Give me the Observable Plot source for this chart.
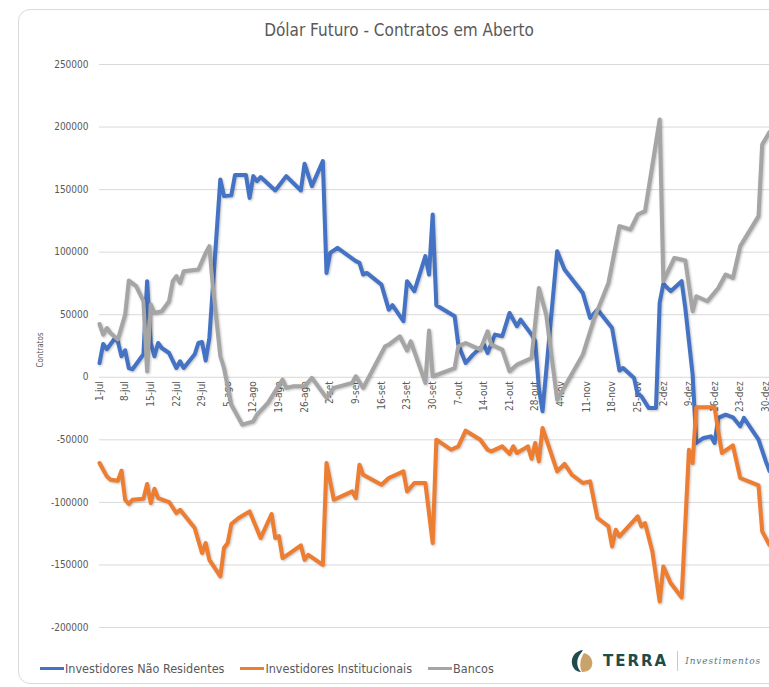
<!DOCTYPE html>
<html>
<head>
<meta charset="utf-8">
<script src="https://cdn.jsdelivr.net/npm/d3@7"></script>
<script src="https://cdn.jsdelivr.net/npm/@observablehq/plot@0.6"></script>
<style>
html,body{margin:0;padding:0;background:#fff;overflow:hidden;}
#wrap{position:relative;width:769px;height:687px;overflow:hidden;font-family:"Liberation Sans Narrow","DejaVu Sans Condensed","Roboto Condensed",Roboto,sans-serif;color:#595959;}
#card{position:absolute;left:18px;top:9px;width:820px;height:675px;border:1px solid #d9d9d9;border-radius:12px;box-sizing:border-box;}
#title{position:absolute;left:0;top:20px;width:798px;text-align:center;font-size:17px;color:#595959;}
#ylab{position:absolute;left:40px;top:350px;font-size:8px;transform:translate(-50%,-50%) rotate(-90deg);white-space:nowrap;color:#595959;}
#chart{position:absolute;left:0;top:0;}
#legend{position:absolute;left:40px;top:661px;font-size:12.5px;color:#595959;display:flex;align-items:center;white-space:nowrap;}
.item{display:flex;align-items:center;margin-right:16px;}
.sw{display:inline-block;width:24px;height:3px;margin-right:1px;}
#logo{position:absolute;left:570px;top:649px;display:flex;align-items:center;}
#terra{font-family:"DejaVu Sans",sans-serif;font-weight:bold;font-size:15px;letter-spacing:2px;color:#1f4b4a;margin-left:9px;}
#sep{width:1px;height:20px;background:#c9c9c9;margin:0 7px 0 9px;}
#inv{font-family:"DejaVu Serif",serif;font-style:italic;font-size:9px;letter-spacing:0.9px;color:#5b7675;}
</style>
</head>
<body>
<div id="wrap">
  <div id="card"></div>
  <div id="title">Dólar Futuro - Contratos em Aberto</div>
  <div id="ylab">Contratos</div>
  <div id="chart"></div>
  <div id="legend">
    <div class="item"><span class="sw" style="background:#4472C4"></span>Investidores Não Residentes</div>
    <div class="item"><span class="sw" style="background:#ED7D31"></span>Investidores Institucionais</div>
    <div class="item"><span class="sw" style="background:#A5A5A5"></span>Bancos</div>
  </div>
  <div id="logo">
    <svg width="24" height="24" viewBox="0 0 24 24">
      <path d="M13 1 C5 2 1 8 2 15 C3 20 7 23 11 23 C7 19 6 12 9 7 C10 5 12 3 13 1 Z" fill="#1f4b4a"/>
      <path d="M14 4 C22 6 24 14 21 19 C19 22 15 23 12 23 C9 18 10 10 14 4 Z" fill="#c9a36a"/>
    </svg>
    <span id="terra">TERRA</span><span id="sep"></span><span id="inv">Investimentos</span>
  </div>
</div>
<script>
// ---- data (2019) ----
const naoResidentesDatas = ["07-01","07-02","07-03","07-05","07-06","07-07","07-08","07-09","07-10","07-13","07-14","07-15","07-16","07-17","07-18","07-20","07-22","07-23","07-24","07-27","07-28","07-29","07-30","07-31","08-03","08-04","08-06","08-07","08-10","08-11","08-12","08-13","08-14","08-18","08-21","08-25","08-26","08-28","08-31","09-01","09-02","09-04","09-09","09-10","09-11","09-12","09-16","09-18","09-19","09-22","09-23","09-25","09-28","09-29","09-30","10-01","10-06","10-07","10-09","10-11","10-14","10-15","10-17","10-19","10-21","10-23","10-24","10-27","10-28","10-29","10-30","11-03","11-05","11-10","11-12","11-14","11-18","11-20","11-21","11-24","11-25","11-26","11-28","11-30","12-01","12-02","12-04","12-07","12-08","12-10","12-11","12-13","12-15","12-16","12-17","12-19","12-21","12-23","12-24","12-28","12-30","12-31"];
const naoResidentesValores = [11400,26600,22400,30400,28800,16800,21600,7400,6400,18400,76800,27400,16800,27400,23400,19400,7400,12800,7400,18400,27400,28200,13400,31400,158100,144800,145400,161600,161600,143400,160800,156800,160000,149300,160800,149300,170700,152800,172800,83400,99400,103400,92800,91400,82100,83400,74100,54100,57600,44800,76800,68800,96800,82100,130100,57600,48800,26100,11400,18100,26100,19400,34100,32800,51400,40800,46100,34100,28800,-8500,-27200,100800,86100,67400,47400,54100,39400,5400,7400,-500,-13800,-15200,-24500,-24500,59400,74700,68800,76800,55400,2100,-52500,-48500,-47200,-52500,-32500,-29900,-32000,-39200,-32500,-49900,-67200,-75000];

const institucionaisDatas = ["07-01","07-03","07-04","07-06","07-07","07-08","07-09","07-10","07-13","07-14","07-15","07-16","07-17","07-20","07-22","07-23","07-27","07-29","07-30","07-31","08-03","08-04","08-05","08-06","08-08","08-11","08-14","08-17","08-18","08-19","08-20","08-22","08-25","08-26","08-27","08-31","09-01","09-03","09-08","09-09","09-10","09-11","09-16","09-18","09-22","09-23","09-25","09-28","09-30","10-01","10-05","10-07","10-09","10-13","10-15","10-16","10-19","10-21","10-22","10-23","10-26","10-27","10-28","10-29","10-30","11-03","11-05","11-07","11-10","11-12","11-14","11-17","11-18","11-19","11-20","11-25","11-26","11-27","11-29","12-01","12-02","12-04","12-07","12-09","12-10","12-11","12-16","12-17","12-18","12-21","12-23","12-28","12-29","12-31"];
const institucionaisValores = [-68500,-79200,-81900,-82700,-74700,-97900,-101300,-97900,-97100,-85300,-100500,-89100,-96500,-99700,-108500,-105900,-120500,-140500,-132500,-145900,-159200,-136500,-132500,-117300,-112500,-107200,-128500,-109300,-128500,-127000,-144500,-140500,-134400,-145900,-141900,-149900,-68500,-97900,-91200,-96500,-69900,-77900,-85900,-80500,-75200,-91200,-84500,-84500,-132500,-49900,-57900,-55200,-42700,-49900,-57900,-59200,-55200,-61300,-55200,-60500,-55200,-65100,-52500,-67200,-40500,-75200,-69300,-77900,-84500,-83200,-112500,-119200,-135200,-121900,-127200,-111200,-119200,-116500,-139200,-179200,-151200,-164500,-176000,-57900,-68500,-24000,-24000,-43200,-60500,-54400,-80500,-86400,-123200,-134000];

const bancosDatas = ["07-01","07-02","07-03","07-04","07-06","07-08","07-09","07-11","07-13","07-14","07-15","07-16","07-18","07-20","07-21","07-22","07-23","07-24","07-28","07-30","07-31","08-01","08-03","08-04","08-06","08-09","08-12","08-13","08-16","08-20","08-21","08-23","08-26","08-28","08-31","09-01","09-03","09-08","09-09","09-11","09-17","09-18","09-21","09-23","09-24","09-28","09-29","09-30","10-06","10-07","10-09","10-13","10-15","10-16","10-19","10-21","10-23","10-27","10-29","10-31","11-03","11-10","11-13","11-17","11-20","11-23","11-25","11-27","12-01","12-02","12-05","12-08","12-10","12-11","12-14","12-17","12-19","12-21","12-23","12-28","12-29","12-31"];
const bancosValores = [42600,34100,39400,35400,30100,50100,77300,72800,60800,4800,58100,51400,52800,60800,76800,80800,75400,84800,86100,99400,104800,71400,16800,7400,-22000,-37900,-35200,-29900,-20500,-1900,-8500,-7200,-7200,-500,-12500,-16500,-8500,-4500,800,-8500,24800,26100,32800,21400,28800,-4500,37300,800,7400,24800,27400,22100,36800,26100,22100,4800,10100,15400,71400,50100,-18000,18100,46100,75400,120800,118100,130100,132800,206100,76800,95400,93300,52800,64800,60800,71400,82100,79400,104800,128800,186100,196000];

const xTickDatas = ["07-01","07-08","07-15","07-22","07-29","08-05","08-12","08-19","08-26","09-02","09-09","09-16","09-23","09-30","10-07","10-14","10-21","10-28","11-04","11-11","11-18","11-25","12-02","12-09","12-16","12-23","12-30"];
const xTickLabels = ["1-jul","8-jul","15-jul","22-jul","29-jul","5-ago","12-ago","19-ago","26-ago","2-set","9-set","16-set","23-set","30-set","7-out","14-out","21-out","28-out","4-nov","11-nov","18-nov","25-nov","2-dez","9-dez","16-dez","23-dez","30-dez"];
const yTicks = [-200000,-150000,-100000,-50000,0,50000,100000,150000,200000,250000];

// ---- build ----
const parse = s => d3.utcParse("%Y-%m-%d")("2019-" + s);
const toRows = (datas, valores) => datas.map((d, i) => ({date: parse(d), value: valores[i]}));
const naoRes = toRows(naoResidentesDatas, naoResidentesValores);
const inst = toRows(institucionaisDatas, institucionaisValores);
const bancos = toRows(bancosDatas, bancosValores);
const ticks = xTickDatas.map((d, i) => ({date: parse(d), label: xTickLabels[i]}));

const FONT = '"Liberation Sans Narrow","DejaVu Sans Condensed","Roboto Condensed",Roboto,sans-serif';

const chart = Plot.plot({
  width: 769,
  height: 687,
  marginLeft: 99,
  marginRight: 0,
  marginTop: 64,
  marginBottom: 60,
  style: {fontFamily: FONT, background: "transparent", color: "#595959", overflow: "hidden"},
  x: {type: "utc", domain: [parse("07-01"), parse("12-31")], axis: null, label: null},
  y: {domain: [-200000, 250000], axis: null, label: null},
  marks: [
    Plot.gridY(yTicks, {stroke: "#d9d9d9", strokeOpacity: 1, strokeWidth: 1}),
    Plot.axisY(yTicks, {tickSize: 0, tickPadding: 11, tickFormat: d => String(d), fontSize: 10, fill: "#595959", label: null}),
    Plot.text(ticks, {x: "date", y: () => 0, text: "label", rotate: -90, textAnchor: "end", lineAnchor: "middle", dy: 4, fontSize: 10, fill: "#595959"}),
    Plot.line(naoRes, {x: "date", y: "value", stroke: "#4472C4", strokeWidth: 4, strokeLinejoin: "round", strokeLinecap: "round"}),
    Plot.line(inst, {x: "date", y: "value", stroke: "#ED7D31", strokeWidth: 4, strokeLinejoin: "round", strokeLinecap: "round"}),
    Plot.line(bancos, {x: "date", y: "value", stroke: "#A5A5A5", strokeWidth: 4, strokeLinejoin: "round", strokeLinecap: "round"})
  ]
});
d3.select(chart).selectAll('g[aria-label="line"]').style("filter", "drop-shadow(1px 1.5px 1px rgba(0,0,0,0.25))");
document.getElementById("chart").appendChild(chart);
</script>
</body>
</html>
